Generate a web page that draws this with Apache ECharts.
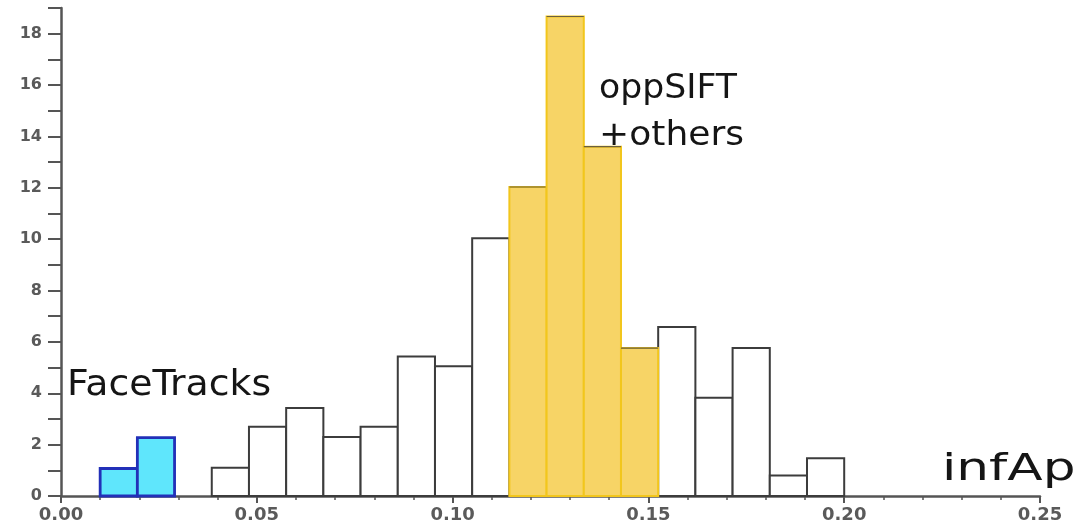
<!DOCTYPE html>
<html>
<head>
<meta charset="utf-8">
<script src="https://cdn.jsdelivr.net/npm/echarts@6/dist/echarts.min.js"></script>
<style>
html,body{margin:0;padding:0;background:#fff;}
#chart{width:1092px;height:527px;}
</style>
</head>
<body>
<div id="chart"></div>
<script>
// Bin edges (infAp)
const binEdges = [0.0100, 0.0195, 0.0290, 0.0385, 0.0480, 0.0575, 0.0670, 0.0765, 0.0860, 0.0955,
  0.1050, 0.1145, 0.1240, 0.1335, 0.1430, 0.1525, 0.1620, 0.1715, 0.1810, 0.1905, 0.2000];
// Count per bin
const counts = [1.07, 2.27, 0, 1.10, 2.70, 3.43, 2.30, 2.70, 5.43, 5.05,
  10.04, 12.03, 18.67, 13.60, 5.76, 6.58, 3.83, 5.76, 0.80, 1.47];
// Group per bin
const groups = ['face', 'face', 'none', 'other', 'other', 'other', 'other', 'other', 'other', 'other',
  'other', 'sift', 'sift', 'sift', 'sift', 'other', 'other', 'other', 'other', 'other'];
const xTicks = [0, 0.05, 0.10, 0.15, 0.20, 0.25];
const yMax = 19;
const labels = { face: 'FaceTracks', sift: ['oppSIFT', '+others'], axis: 'infAp' };

function seriesData(g) {
  const out = [];
  for (let i = 0; i < counts.length; i++) {
    if (groups[i] === g && counts[i] > 0) out.push([binEdges[i], binEdges[i + 1], counts[i]]);
  }
  return out;
}

const styles = {
  other: { fill: '#ffffff', stroke: '#3c3c3c', lineWidth: 2 },
  face: { fill: '#5fe6fc', stroke: '#2230b8', lineWidth: 2.8 },
  sift: { fill: '#f7d466', stroke: '#f2c61c', lineWidth: 2 }
};

function makeRender(g) {
  const st = styles[g];
  return function (params, api) {
    const p0 = api.coord([api.value(0), 0]);
    const p1 = api.coord([api.value(1), api.value(2)]);
    const children = [{
      type: 'rect',
      shape: { x: p0[0], y: p1[1], width: p1[0] - p0[0], height: p0[1] - p1[1] },
      style: { fill: st.fill, stroke: st.stroke, lineWidth: st.lineWidth }
    }];
    if (g === 'sift') {
      children.push({
        type: 'line',
        shape: { x1: p0[0], y1: p1[1], x2: p1[0], y2: p1[1] },
        style: { stroke: '#6b6040', lineWidth: 1.2 }
      });
    }
    return { type: 'group', children: children };
  };
}

const chart = echarts.init(document.getElementById('chart'), null, { renderer: 'canvas' });
const axisColor = '#555555';
chart.setOption({
  animation: false,
  backgroundColor: '#ffffff',
  grid: { left: 61, right: 52, top: 8, bottom: 31, containLabel: false },
  xAxis: {
    type: 'value', min: xTicks[0], max: xTicks[xTicks.length - 1], interval: 0.05,
    axisLine: { show: true, onZero: false, lineStyle: { color: axisColor, width: 2.5 } },
    axisTick: { show: true, length: 7, lineStyle: { color: axisColor, width: 2 } },
    minorTick: { show: true, splitNumber: 5, length: 4, lineStyle: { color: axisColor, width: 1.5 } },
    splitLine: { show: false },
    axisLabel: {
      color: '#5a5a5a', fontFamily: 'DejaVu Sans', fontWeight: 'bold', fontSize: 18, margin: 10,
      formatter: v => v.toFixed(2)
    }
  },
  yAxis: {
    type: 'value', min: 0, max: yMax, interval: 1,
    axisLine: { show: true, lineStyle: { color: axisColor, width: 2.5 } },
    axisTick: { show: true, length: 13, lineStyle: { color: axisColor, width: 2 } },
    splitLine: { show: false },
    axisLabel: {
      color: '#5a5a5a', fontFamily: 'DejaVu Sans', fontWeight: 'bold', fontSize: 16, margin: 19,
      formatter: v => (v % 2 === 0 ? String(v) : '')
    }
  },
  series: ['other', 'face', 'sift'].map(g => ({
    type: 'custom', name: g, renderItem: makeRender(g), data: seriesData(g),
    encode: { x: [0, 1], y: 2 }, z: g === 'sift' ? 3 : 2
  })),
  graphic: [
    { type: 'text', x: 67, y: 368, scaleX: 1.08, z: 10,
      style: { text: labels.face, font: '35px "DejaVu Sans"', fill: '#151515' } },
    { type: 'text', x: 599, y: 72, scaleX: 1.02, z: 10,
      style: { text: labels.sift[0], font: '34px "DejaVu Sans"', fill: '#151515' } },
    { type: 'text', x: 599, y: 119, scaleX: 1.06, z: 10,
      style: { text: labels.sift[1], font: '34px "DejaVu Sans"', fill: '#151515' } },
    { type: 'text', x: 942, y: 451, scaleX: 1.36, z: 10,
      style: { text: labels.axis, font: '38px "DejaVu Sans"', fill: '#151515' } }
  ]
});
</script>
</body>
</html>
